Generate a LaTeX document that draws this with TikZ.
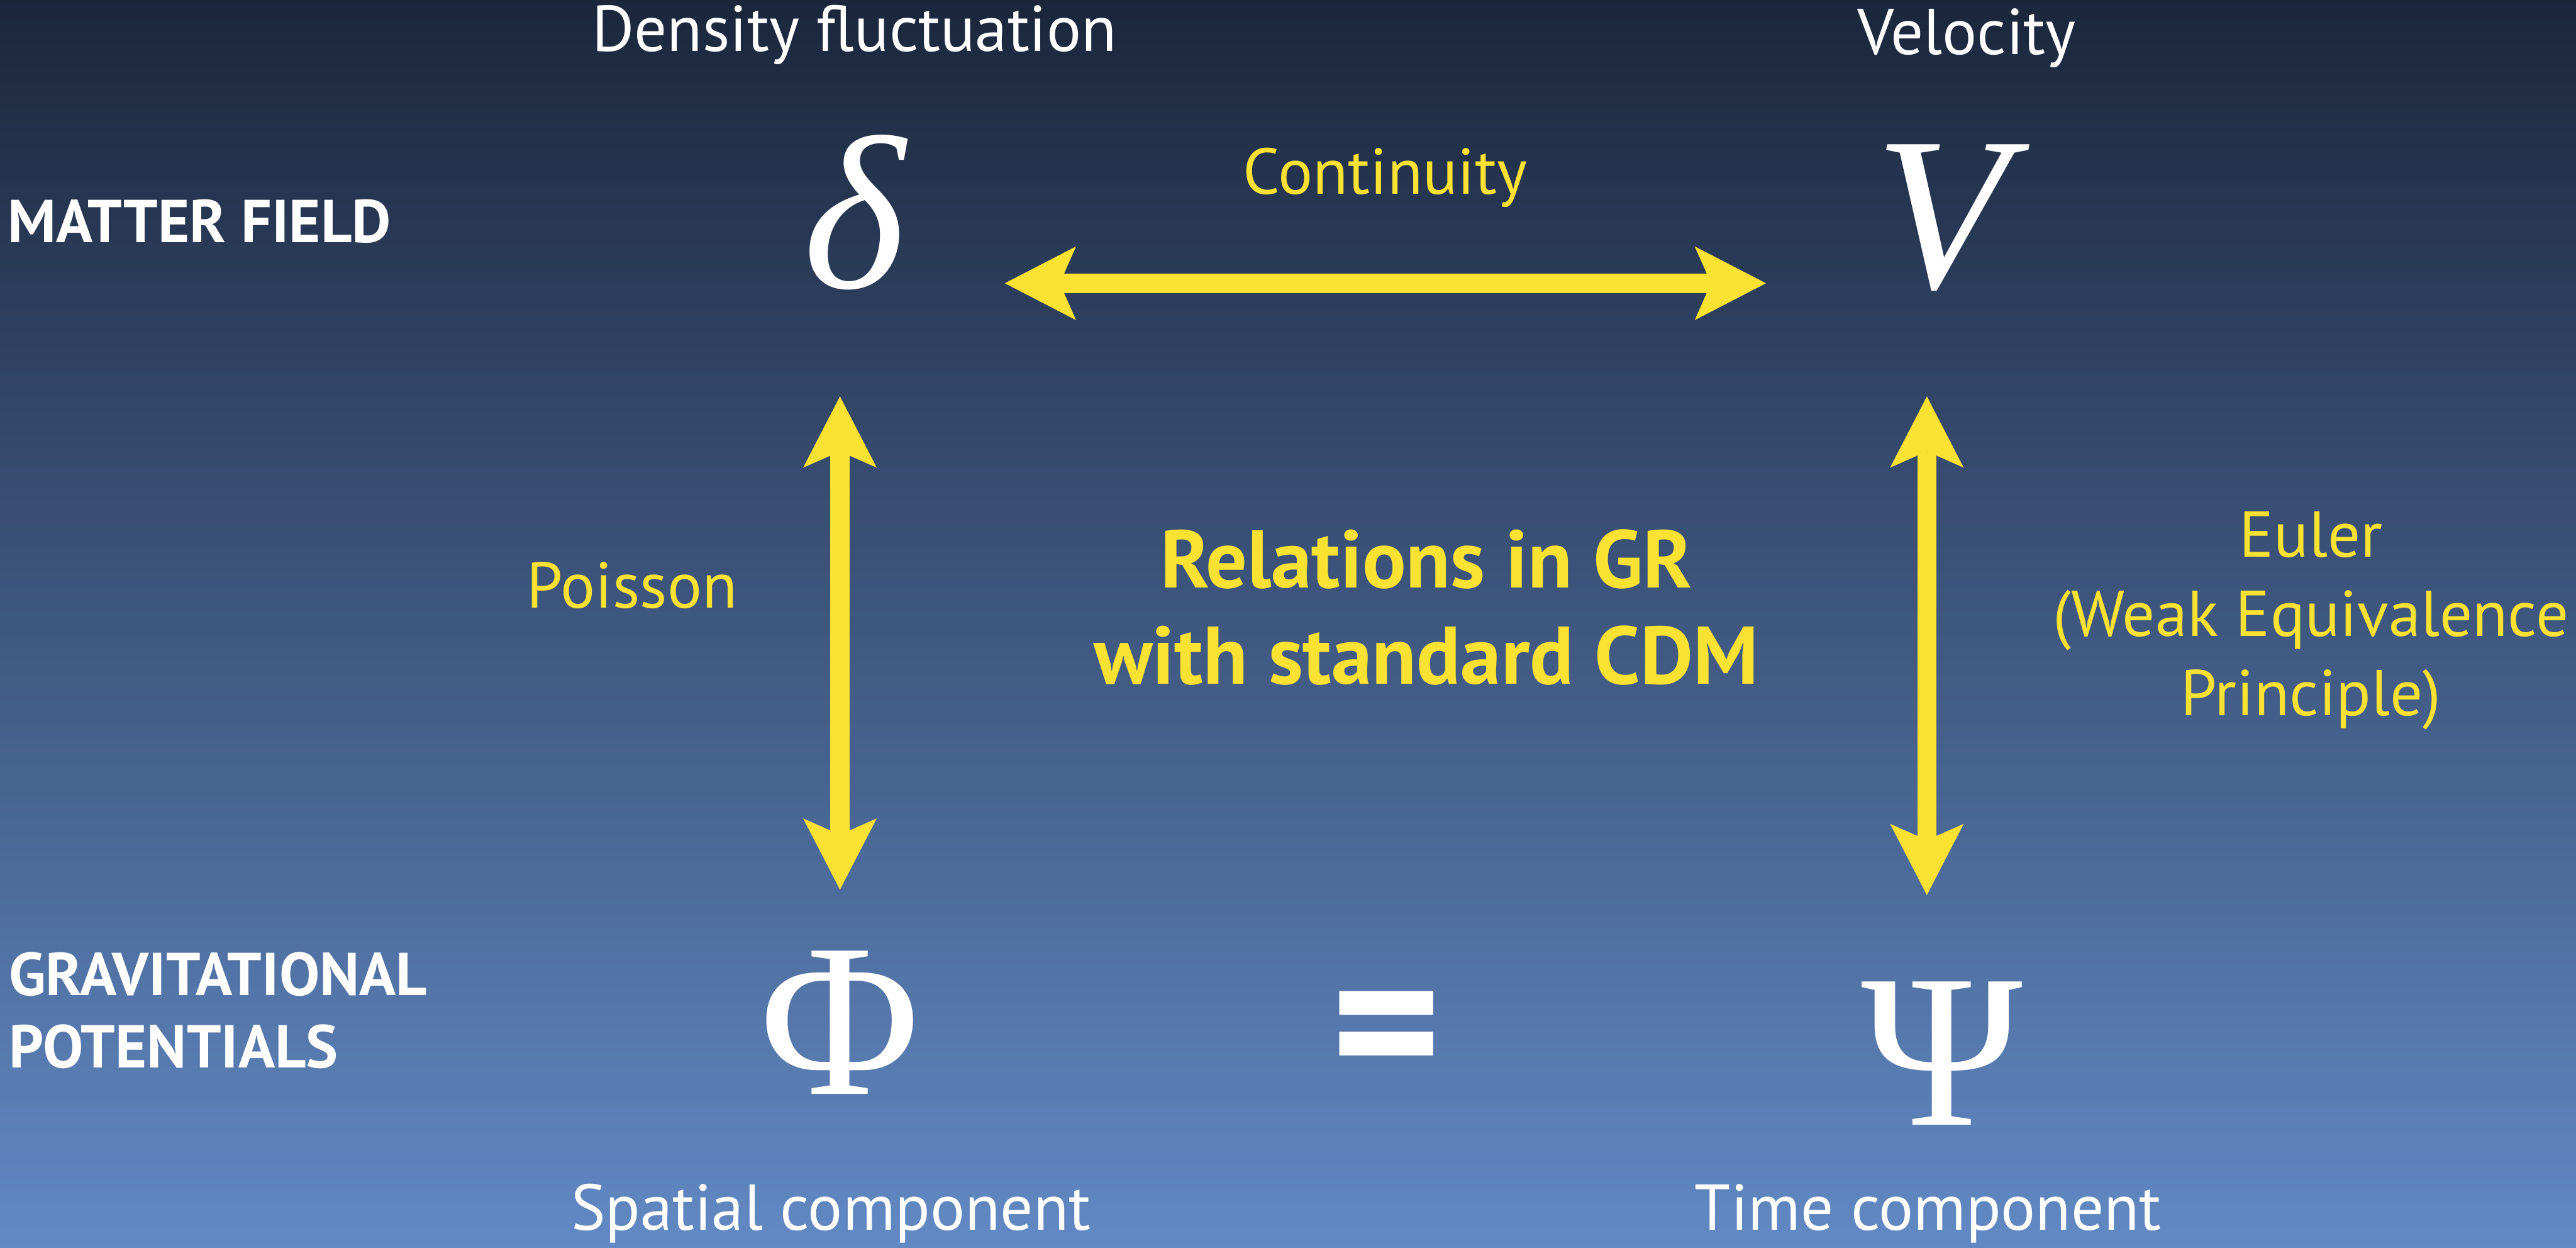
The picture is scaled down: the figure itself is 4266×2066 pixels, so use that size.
\documentclass[tikz,border=0pt]{standalone}
\usepackage{fontspec}
\setmainfont{PT Sans}
\newfontfamily\symfont{Liberation Serif}
\usetikzlibrary{arrows.meta,calc}

\definecolor{skytop}{RGB}{27,38,59}
\definecolor{skybottom}{RGB}{98,137,196}
\definecolor{relyellow}{RGB}{249,226,49}

\tikzset{
  yellowtip/.style={arrows={Stealth[length=1.18cm,width=1.22cm,inset=0.27cm,line width=0pt]-Stealth[length=1.18cm,width=1.22cm,inset=0.27cm,line width=0pt]}},
  biarrow/.style={draw=relyellow, line width=0.32cm, yellowtip},
  toplabel/.style={text=white, inner sep=0pt, anchor=base, font=\fontsize{30.5}{36}\selectfont},
  rowlabel/.style={text=white, inner sep=0pt, anchor=base west, align=left, font=\bfseries\fontsize{28.5}{34.1}\selectfont},
  fieldsym/.style={text=white, inner sep=0pt, anchor=base, font=\symfont\fontsize{103}{103}\selectfont},
  rellabel/.style={text=relyellow, inner sep=0pt, anchor=base, align=center, font=\fontsize{30.5}{37.3}\selectfont},
  grlabel/.style={text=relyellow, inner sep=0pt, anchor=base, align=center, font=\bfseries\fontsize{38.5}{45.5}\selectfont}
}

\begin{document}
\begin{tikzpicture}[x=0.01cm, y=-0.01cm]
% background
\useasboundingbox (0,0) rectangle (4266,2066);
\fill[top color=skytop, bottom color=skybottom] (0,0) rectangle (4266,2066);

% row and column titles
\node[toplabel] (dens) at (1415,85) {Density fluctuation};
\node[toplabel] (velo) at (3257,90) {Velocity};
\node[rowlabel] (matter) at (12,402) {MATTER FIELD};
\node[rowlabel] (grav) at (14,1768) {GRAVITATIONAL\\POTENTIALS};
\node[toplabel] (spatial) at (1376,2037) {Spatial component};
\node[toplabel] (timec) at (3193,2037) {Time component};

% the four fields
\node[fieldsym] (delta) at (1415,476) {\itshape δ};
\node[fieldsym] (V) at (3216,476) {\itshape V};
\node[fieldsym] (phi) at (1391,1812) {Φ};
\node[fieldsym] (psi) at (3216,1863) {Ψ};
\node[text=white, inner sep=0pt, font=\bfseries\fontsize{100}{100}\selectfont] (eq) at (2296,1728) {=};

% relations
\node[rellabel] (cont) at (2294,321) {Continuity};
\node[rellabel] (poisson) at (1047,1007) {Poisson};
\node[rellabel] (euler) at (3827,1185) {Euler\\(Weak Equivalence\\Principle)};
\node[grlabel] (gr) at (2362,1133) {Relations in GR\\with standard CDM};

\draw[biarrow, shorten <=1.64cm, shorten >=1.80cm] ([yshift=0.07cm]delta.base east) -- ([yshift=0.07cm]V.base west);
\draw[biarrow, shorten <=1.76cm, shorten >=1.01cm] (phi |- delta.south) -- (phi.north);
\draw[biarrow, shorten <=1.74cm, shorten >=1.43cm] ($(psi |- V.south)+(-25,0)$) -- ($(psi.north)+(-25,0)$);
\end{tikzpicture}
\end{document}
